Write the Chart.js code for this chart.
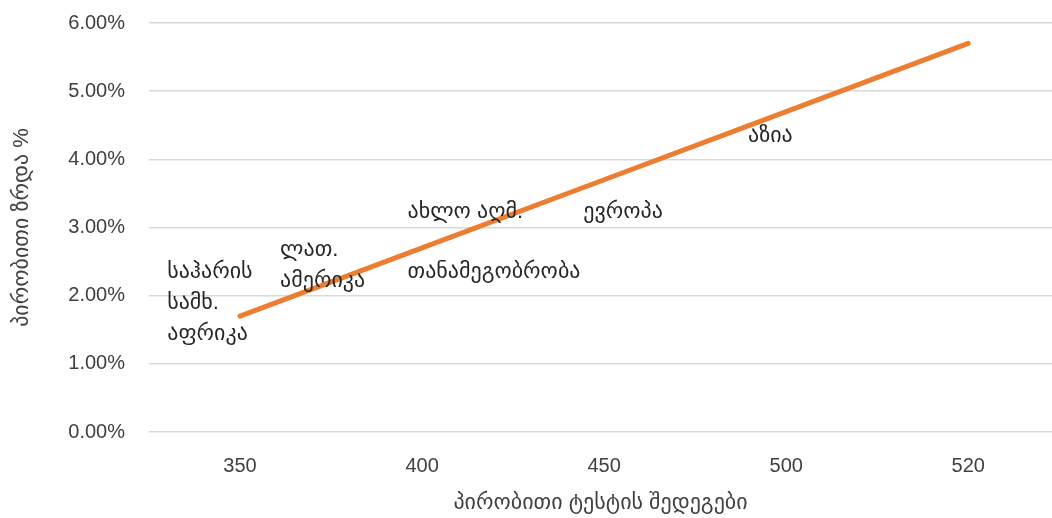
<!DOCTYPE html>
<html>
<head>
<meta charset="utf-8">
<script src="https://cdn.jsdelivr.net/npm/chart.js@4"></script>
<style>
  body { margin: 0; background: #fff; }
  #wrap { width: 1052px; height: 518px; }
</style>
</head>
<body>
<div id="wrap"><canvas id="myChart"></canvas></div>
<script>
// test score categories on the x axis
const testScores = ['350', '400', '450', '500', '520'];
// trend line, growth in %
const growthPct = [1.7, 2.7, 3.7, 4.7, 5.7];
// y tick values in %
const yTicks = [0, 1, 2, 3, 4, 5, 6];

// region labels, placed in chart units (x = category position, y = %)
const regionNames = [
  ['საჰარის', 'სამხ.', 'აფრიკა'],
  ['ლათ.', 'ამერიკა'],
  ['ახლო აღმ.'],
  ['თანამეგობრობა'],
  ['ევროპა'],
  ['აზია']
];
const regionX = [-0.40, 0.22, 0.92, 0.92, 1.885, 2.79];
const regionY = [1.89, 2.45, 3.23, 2.35, 3.23, 4.34];

const FONT = '"Liberation Sans", "DejaVu Sans", Arial, sans-serif';

// draws the region names next to their hidden points
const regionLabels = {
  id: 'regionLabels',
  afterDatasetsDraw(chart) {
    const ctx = chart.ctx;
    const meta = chart.getDatasetMeta(1);
    ctx.save();
    ctx.font = '22px ' + FONT;
    ctx.fillStyle = '#262626';
    ctx.textAlign = 'left';
    ctx.textBaseline = 'middle';
    meta.data.forEach((pt, i) => {
      const lines = regionNames[i];
      const lh = 31;
      const y0 = pt.y - (lines.length - 1) * lh / 2;
      lines.forEach((t, j) => ctx.fillText(t, pt.x, y0 + j * lh));
    });
    ctx.restore();
  }
};

const ctx = document.getElementById('myChart').getContext('2d');
const myChart = new Chart(ctx, {
  type: 'scatter',
  data: {
    datasets: [
      {
        data: growthPct.map((v, i) => ({ x: i, y: v })),
        showLine: true,
        borderColor: '#ED7D31',
        borderWidth: 5,
        borderCapStyle: 'round',
        pointRadius: 0,
        fill: false
      },
      {
        data: regionX.map((x, i) => ({ x: x, y: regionY[i] })),
        showLine: false,
        pointRadius: 0
      }
    ]
  },
  options: {
    responsive: true,
    maintainAspectRatio: false,
    animation: false,
    layout: { padding: { top: 23, right: 0, left: 9, bottom: 2 } },
    plugins: {
      legend: { display: false },
      tooltip: { enabled: false }
    },
    scales: {
      x: {
        type: 'linear',
        min: -0.5,
        max: 4.46,
        afterBuildTicks: (scale) => {
          scale.ticks = testScores.map((s, i) => ({ value: i }));
        },
        afterFit: (scale) => {
          scale.height = 84;
          scale.paddingLeft = 0;
          scale.paddingRight = 0;
        },
        grid: { display: false },
        border: { display: false },
        ticks: {
          color: '#404040',
          font: { family: FONT, size: 20 },
          padding: 14,
          maxRotation: 0,
          callback: (v) => testScores[v]
        },
        title: {
          display: true,
          text: 'პირობითი ტესტის შედეგები',
          color: '#404040',
          font: { family: FONT, size: 22 },
          padding: { top: 10, bottom: 0 }
        }
      },
      y: {
        min: 0,
        max: 6,
        afterBuildTicks: (scale) => {
          scale.ticks = yTicks.map(v => ({ value: v }));
        },
        afterFit: (scale) => {
          scale.width = 140;
          scale.paddingTop = 0;
          scale.paddingBottom = 0;
        },
        grid: { color: '#d9d9d9', lineWidth: 1.5, drawTicks: false },
        border: { display: false },
        ticks: {
          color: '#404040',
          font: { family: FONT, size: 20 },
          padding: 24,
          callback: (v) => v.toFixed(2) + '%'
        },
        title: {
          display: true,
          text: 'პირობითი ზრდა %',
          color: '#404040',
          font: { family: FONT, size: 22 },
          padding: { top: 0, bottom: 8 }
        }
      }
    }
  },
  plugins: [regionLabels]
});
</script>
</body>
</html>
